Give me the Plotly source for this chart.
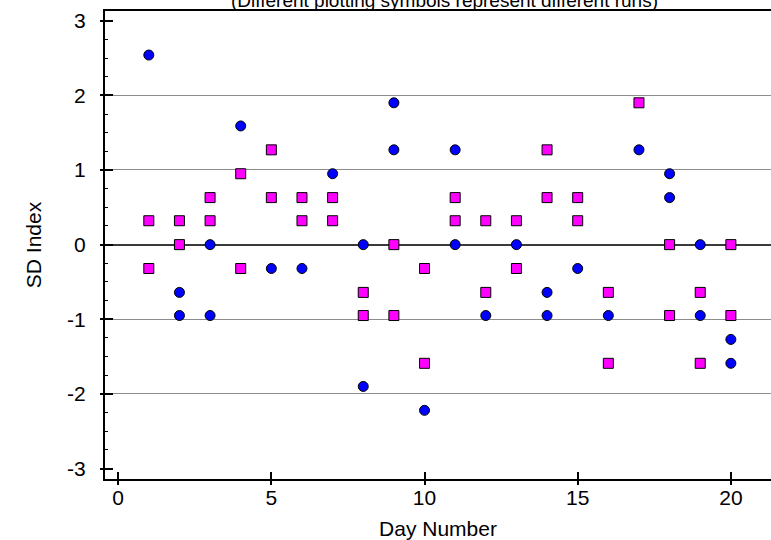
import plotly.graph_objects as go

# Run 1 (blue circles)
run1_day = [1, 2, 2, 3, 3, 4, 5, 6, 7, 8, 8, 9, 9, 10, 11, 11, 12, 13, 14, 14,
            15, 16, 17, 18, 18, 19, 19, 20, 20]
run1_sd = [2.54, -0.64, -0.95, 0.0, -0.95, 1.59, -0.32, -0.32, 0.95, 0.0, -1.90,
           1.90, 1.27, -2.22, 1.27, 0.0, -0.95, 0.0, -0.64, -0.95,
           -0.32, -0.95, 1.27, 0.95, 0.63, 0.0, -0.95, -1.27, -1.59]

# Run 2 (magenta squares)
run2_day = [1, 1, 2, 2, 3, 3, 4, 4, 5, 5, 6, 6, 7, 7, 8, 8, 9, 9, 10, 10,
            11, 11, 12, 12, 13, 13, 14, 14, 15, 15, 16, 16, 17, 18, 18, 19, 19, 20, 20]
run2_sd = [0.32, -0.32, 0.32, 0.0, 0.63, 0.32, 0.95, -0.32, 1.27, 0.63,
           0.63, 0.32, 0.63, 0.32, -0.64, -0.95, 0.0, -0.95, -0.32, -1.59,
           0.63, 0.32, 0.32, -0.64, 0.32, -0.32, 1.27, 0.63, 0.63, 0.32,
           -0.64, -1.59, 1.90, 0.0, -0.95, -0.64, -1.59, 0.0, -0.95]

x_ticks = [0, 5, 10, 15, 20]
y_ticks = [-3, -2, -1, 0, 1, 2, 3]
y_ticktext = ["-3", "-2", "-1", "0", "1", "2", "3"]
grid_vals = [-2, -1, 1, 2]

title_text = "(Different plotting symbols represent different runs)"
x_title = "Day Number"
y_title = "SD Index"

X_RANGE = [-0.43, 21.31]
Y_RANGE = [-3.14, 3.13]
FONT = "Liberation Sans, Arial, sans-serif"

fig = go.Figure()
fig.add_trace(go.Scatter(
    x=run1_day, y=run1_sd, mode="markers",
    marker=dict(symbol="circle", size=10, color="#0000FF",
                line=dict(color="black", width=1)),
    showlegend=False, hoverinfo="skip"))
fig.add_trace(go.Scatter(
    x=run2_day, y=run2_sd, mode="markers",
    marker=dict(symbol="square", size=10, color="#FF00FF",
                line=dict(color="black", width=1)),
    showlegend=False, hoverinfo="skip"))
# empty traces to bind overlay axes
fig.add_trace(go.Scatter(x=[], y=[], xaxis="x2", yaxis="y2", showlegend=False))
fig.add_trace(go.Scatter(x=[], y=[], xaxis="x2", yaxis="y3", showlegend=False))

fig.update_layout(
    width=771, height=540,
    margin=dict(l=105, r=0, t=11, b=61),
    paper_bgcolor="white", plot_bgcolor="white",
    font=dict(family=FONT, color="black", size=21),
    xaxis=dict(
        range=X_RANGE, tickmode="array", tickvals=x_ticks,
        ticks="outside", ticklen=4, tickwidth=2, tickcolor="black",
        showline=True, linecolor="black", linewidth=2, mirror=True,
        showgrid=False, zeroline=False,
        tickfont=dict(size=21), ticklabelstandoff=-5,
        title=dict(text=x_title, font=dict(size=21), standoff=13),
    ),
    yaxis=dict(
        range=Y_RANGE, tickmode="array", tickvals=y_ticks, ticktext=y_ticktext,
        ticks="outside", ticklen=3, tickwidth=2, tickcolor="black",
        showline=True, linecolor="black", linewidth=2,
        showgrid=False, zeroline=True, zerolinecolor="#3a3a3a", zerolinewidth=1.5,
        minor=dict(dtick=0.25, tick0=0, ticks="inside", ticklen=3,
                   tickwidth=1, tickcolor="black", showgrid=False),
        tickfont=dict(size=21), ticklabelstandoff=10,
        title=dict(text=y_title, font=dict(size=21), standoff=20),
    ),
    xaxis2=dict(
        range=X_RANGE, overlaying="x", anchor="y", side="bottom",
        tickmode="array", tickvals=x_ticks, showticklabels=False,
        ticks="inside", ticklen=7, tickwidth=2, tickcolor="black",
        showline=False, showgrid=False, zeroline=False,
    ),
    yaxis2=dict(
        range=Y_RANGE, overlaying="y", anchor="x", side="left",
        tickmode="array", tickvals=y_ticks, showticklabels=False,
        ticks="inside", ticklen=8, tickwidth=2, tickcolor="black",
        showline=False, showgrid=False, zeroline=False,
    ),
    yaxis3=dict(
        range=Y_RANGE, overlaying="y", anchor="x", side="left",
        tickmode="array", tickvals=grid_vals, showticklabels=False,
        ticks="", showline=False, showgrid=True, gridcolor="#8c8c8c",
        gridwidth=1, zeroline=False, layer="below traces",
    ),
    annotations=[dict(
        text=title_text, xref="paper", yref="paper", x=0.5, y=1,
        xanchor="center", yanchor="bottom", showarrow=False,
        font=dict(family=FONT, size=19, color="black"), yshift=-2, xshift=6,
    )],
)

fig.write_html("out.html", config={"displayModeBar": False},
               post_script="document.body.style.margin='0';document.body.style.overflow='hidden';")
